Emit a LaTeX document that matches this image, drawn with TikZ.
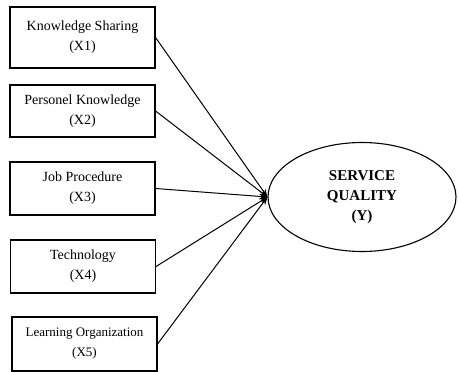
\documentclass[tikz,border=0pt]{standalone}
\usepackage{fontspec}
\setmainfont{Liberation Serif}
\usetikzlibrary{shapes.geometric,arrows.meta}
\tikzset{
  varbox/.style={draw=black, line width=1.1pt, rectangle, minimum width=145pt, align=center, inner sep=2pt, font=\fontsize{14}{20}\selectfont},
  latent/.style={draw=black, line width=1.1pt, ellipse, minimum width=188pt, minimum height=109pt, align=center, font=\bfseries\fontsize{15}{20}\selectfont},
  path/.style={line width=1pt, -{Stealth[length=8pt,width=6pt]}}
}
\begin{document}
\begin{tikzpicture}[x=1pt,y=-1pt]
\useasboundingbox (0,0) rectangle (458,372);
\node[varbox, minimum height=61pt] (b1) at (82.5,37.5) {Knowledge Sharing\\(X1)};
\node[varbox, minimum height=52pt] (b2) at (82.5,111) {Personel Knowledge\\(X2)};
\node[varbox, minimum height=53pt] (b3) at (82.5,188.5) {Job Procedure\\(X3)};
\node[varbox, minimum height=53pt] (b4) at (83,266.5) {Technology\\(X4)};
\node[varbox, minimum height=54pt, font=\fontsize{13}{20}\selectfont] (b5) at (84.5,344) {Learning Organization\\(X5)};
\node[latent] (y) at (362,197) {SERVICE\\QUALITY\\(Y)};
\foreach \b in {b1,b2,b3,b4,b5}
  \draw[path] (\b.east) -- (y.west);
\end{tikzpicture}
\end{document}
